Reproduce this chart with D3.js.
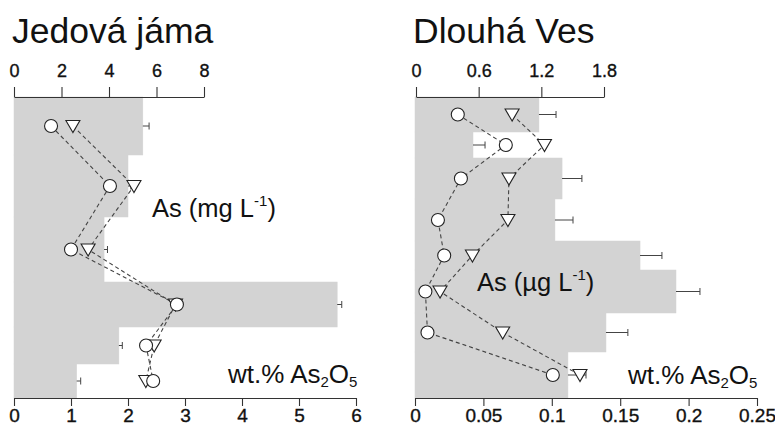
<!DOCTYPE html>
<html>
<head>
<meta charset="utf-8">
<script src="https://cdn.jsdelivr.net/npm/d3@7"></script>
<style>
  html, body { margin: 0; padding: 0; background: #fff; }
  svg { display: block; font-family: "Liberation Sans", Arial, Helvetica, sans-serif; }
</style>
</head>
<body>
<svg id="chart" width="775" height="427"></svg>
<script>
// ---------- Data ----------
// Left panel: Jedová jáma
const leftTitle = "Jedová jáma";
const leftDepth = [0, 5.8, 12.0, 18.5, 23.0, 26.7, 30.1];          // layer boundaries (relative depth)
const leftAs2O5 = [2.26, 2.0, 1.58, 5.67, 1.84, 1.1];             // wt.% As2O5 (bars)
const leftAs2O5Err = [0.11, 0.05, 0.06, 0.08, 0.06, 0.07];        // error
const leftAsCircle = [1.56, 4.04, 2.4, 6.86, 5.56, 5.86];         // As (mg/L), circles
const leftAsTriangle = [2.48, 5.05, 3.12, 6.8, 5.9, 5.55];        // As (mg/L), triangles
const leftTopTicks = [0, 2, 4, 6, 8];
const leftBottomTicks = [0, 1, 2, 3, 4, 5, 6];

// Right panel: Dlouhá Ves
const rightTitle = "Dlouhá Ves";
const rightDepth = [0, 3.5, 6.1, 10.2, 14.4, 17.3, 21.6, 25.5, 30.1];
const rightAs2O5 = [0.0906, 0.0424, 0.1075, 0.1023, 0.1645, 0.1908, 0.1396, 0.1118];
const rightAs2O5Err = [0.0125, 0.0088, 0.0145, 0.0132, 0.016, 0.0175, 0.016, 0.0132];
const rightAsCircle = [0.40, 0.86, 0.43, 0.21, 0.27, 0.09, 0.11, 1.31];
const rightAsTriangle = [0.92, 1.23, 0.89, 0.88, 0.54, 0.23, 0.83, 1.57];
const rightTopTicks = [0, 0.6, 1.2, 1.8];
const rightBottomTicks = [0, 0.05, 0.1, 0.15, 0.2, 0.25];

// ---------- Drawing ----------
const svg = d3.select("#chart");
const BAR = "#d3d3d3", INK = "#222", AX = "#333";

function panel(cfg) {
  const g = svg.append("g");
  const y = d3.scaleLinear().domain([0, cfg.depth[cfg.depth.length - 1]]).range([97, 398]);
  const xb = d3.scaleLinear().domain(cfg.bottomDomain).range(cfg.bottomRange);
  const xt = d3.scaleLinear().domain(cfg.topDomain).range(cfg.topRange);
  const mids = cfg.bars.map((v, i) => (cfg.depth[i] + cfg.depth[i + 1]) / 2);

  // bars (step histogram)
  g.selectAll("rect.bar").data(cfg.bars).join("rect")
    .attr("x", xb(0))
    .attr("y", (d, i) => y(cfg.depth[i]))
    .attr("width", d => xb(d) - xb(0))
    .attr("height", (d, i) => y(cfg.depth[i + 1]) - y(cfg.depth[i]))
    .attr("fill", BAR).attr("stroke", BAR).attr("stroke-width", 0.5);

  // error bars
  const eb = g.selectAll("g.err").data(cfg.bars).join("g");
  eb.append("line")
    .attr("x1", d => xb(d)).attr("x2", (d, i) => xb(d + cfg.err[i]))
    .attr("y1", (d, i) => y(mids[i])).attr("y2", (d, i) => y(mids[i]))
    .attr("stroke", "#444").attr("stroke-width", 1);
  eb.append("line")
    .attr("x1", (d, i) => xb(d + cfg.err[i])).attr("x2", (d, i) => xb(d + cfg.err[i]))
    .attr("y1", (d, i) => y(mids[i]) - 3.5).attr("y2", (d, i) => y(mids[i]) + 3.5)
    .attr("stroke", "#444").attr("stroke-width", 1);

  // dashed lines
  const line = d3.line().x(d => xt(d[0])).y(d => y(d[1]));
  [cfg.circ, cfg.tri].forEach(s => {
    g.append("path").datum(s.map((v, i) => [v, mids[i]]))
      .attr("d", line).attr("fill", "none")
      .attr("stroke", "#444").attr("stroke-width", 1.1)
      .attr("stroke-dasharray", "4,3");
  });

  // markers
  const tri = d3.symbol().type(d3.symbolTriangle).size(85);
  g.selectAll("path.tri").data(cfg.tri).join("path")
    .attr("d", tri)
    .attr("transform", (d, i) => `translate(${xt(d)},${y(mids[i]) - 1.5}) rotate(180)`)
    .attr("fill", "#fff").attr("stroke", INK).attr("stroke-width", 1.1);
  g.selectAll("circle.c").data(cfg.circ).join("circle")
    .attr("cx", d => xt(d)).attr("cy", (d, i) => y(mids[i]))
    .attr("r", 6.5)
    .attr("fill", "#fff").attr("stroke", INK).attr("stroke-width", 1.1);

  // axes
  const top = g.append("g").attr("transform", "translate(0,97)")
    .call(d3.axisTop(xt).tickValues(cfg.topTicks).tickFormat(d => String(d))
      .tickSize(10).tickSizeOuter(0).tickPadding(10));
  const bot = g.append("g").attr("transform", "translate(0,398)")
    .call(d3.axisBottom(xb).tickValues(cfg.bottomTicks).tickFormat(d => String(d))
      .tickSize(8).tickSizeOuter(0).tickPadding(3));
  [top, bot].forEach(a => {
    a.selectAll("path, line").attr("stroke", AX).attr("stroke-width", 1.1);
    a.selectAll("text").attr("fill", "#111").style("font-family", null)
      .attr("stroke", "#111").attr("stroke-width", 0.35);
  });
  top.selectAll("text").attr("font-size", 18);
  bot.selectAll("text").attr("font-size", 19);

  // title
  g.append("text").attr("x", cfg.titleX).attr("y", 43)
    .attr("font-size", 35.5).attr("fill", "#111").text(cfg.title);

  // As label
  const t1 = g.append("text").attr("x", cfg.asX).attr("y", cfg.asY)
    .attr("font-size", 25.5).attr("fill", "#111");
  t1.append("tspan").text(cfg.asText);
  t1.append("tspan").attr("font-size", 15).attr("dy", -11).text("-1");
  t1.append("tspan").attr("dy", 11).text(")");

  // wt.% As2O5 label
  const t2 = g.append("text").attr("x", cfg.wtX).attr("y", cfg.wtY)
    .attr("font-size", 26).attr("fill", "#111");
  t2.append("tspan").text("wt.% As");
  t2.append("tspan").attr("font-size", 15).attr("dy", 4).text("2");
  t2.append("tspan").attr("dy", -4).text("O");
  t2.append("tspan").attr("font-size", 15).attr("dy", 4).text("5");
}

panel({
  title: leftTitle, titleX: 12,
  depth: leftDepth, bars: leftAs2O5, err: leftAs2O5Err,
  circ: leftAsCircle, tri: leftAsTriangle,
  bottomDomain: [0, 6], bottomRange: [14, 356], bottomTicks: leftBottomTicks,
  topDomain: [0, 8], topRange: [14, 204], topTicks: leftTopTicks,
  asText: "As (mg L", asX: 152, asY: 217,
  wtX: 228, wtY: 383
});

panel({
  title: rightTitle, titleX: 413,
  depth: rightDepth, bars: rightAs2O5, err: rightAs2O5Err,
  circ: rightAsCircle, tri: rightAsTriangle,
  bottomDomain: [0, 0.25], bottomRange: [415, 757], bottomTicks: rightBottomTicks,
  topDomain: [0, 1.8], topRange: [416, 604], topTicks: rightTopTicks,
  asText: "As (µg L", asX: 477, asY: 291,
  wtX: 628, wtY: 384
});
</script>
</body>
</html>
